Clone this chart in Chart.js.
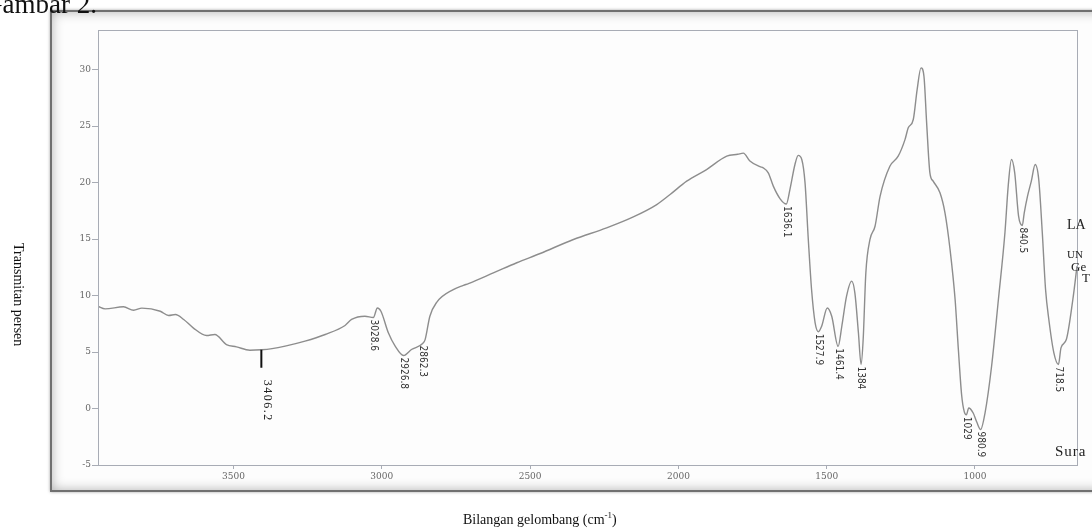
<!DOCTYPE html>
<html>
<head>
<meta charset="utf-8">
<script src="https://cdn.jsdelivr.net/npm/chart.js@4.4.1/dist/chart.umd.min.js"></script>
<style>
  html, body { margin: 0; padding: 0; background: #fff; }
  #page { position: relative; width: 1092px; height: 529px; overflow: hidden; background: #fff; }
  #sheet {
    position: absolute; left: 50px; top: 10px; width: 1100px; height: 478px;
    border: 2px solid #707070; border-right: none;
    box-shadow: inset 0 0 12px rgba(0,0,0,0.30), 0 0 3px rgba(0,0,0,0.35);
    background: #fdfdfd;
  }
  canvas { position: absolute; left: 0; top: 0; }
  .t { position: absolute; font-family: "Liberation Serif", "Times New Roman", serif; color: #111; white-space: nowrap; line-height: 1; }
  #ytitle { left: 11px; top: 243px; font-size: 14px; writing-mode: vertical-rl; }
  #xtitle { left: 463px; top: 513px; font-size: 14px; }
  #xtitle sup { font-size: 9px; vertical-align: 6px; line-height: 0; }
  #fig { left: -17px; top: -9px; font-size: 27px; }
  .stamp { color: #222; }
</style>
</head>
<body>
<div id="page">
  <div id="sheet"></div>
  <canvas id="ir" width="1092" height="529"></canvas>
  <div class="t" id="fig">Gambar 2.</div>
  <div class="t" id="ytitle">Transmitan persen</div>
  <div class="t" id="xtitle">Bilangan gelombang (cm<sup>-1</sup>)</div>
  <div class="t stamp" style="left:1067px;top:218px;font-size:14px;">LA</div>
  <div class="t stamp" style="left:1067px;top:249px;font-size:11px;">UN</div>
  <div class="t stamp" style="left:1071px;top:260px;font-size:13px;">Ge</div>
  <div class="t stamp" style="left:1082px;top:271px;font-size:13px;">T</div>
  <div class="t stamp" style="left:1055px;top:444px;font-size:15px;letter-spacing:1px;">Sura</div>
</div>
<script>
// IR spectrum: wavenumber (cm-1) against percent transmittance
const wavenumbers = [
  3957, 3933, 3871, 3837, 3809, 3747, 3719, 3696, 3668, 3636, 3591, 3563, 3524, 3490, 3445,
  3406.2, 3370, 3326, 3259, 3191, 3124, 3102, 3057, 3028.6, 3015, 3003, 2978, 2955, 2926.8,
  2900, 2862.3, 2854, 2838, 2815, 2759, 2725, 2708, 2624, 2545, 2466, 2354, 2242, 2152, 2073,
  2028, 1972, 1905, 1837, 1800, 1781, 1759, 1725, 1714, 1697, 1680, 1657, 1636.1, 1624, 1607,
  1596, 1584, 1573, 1562, 1551, 1539, 1527.9, 1517, 1498, 1483, 1461.4, 1449, 1433, 1416, 1405,
  1393, 1384, 1377, 1368, 1354, 1337, 1320, 1287, 1259, 1236, 1225, 1208, 1195, 1182, 1172,
  1163, 1152, 1141, 1118, 1101, 1084, 1067, 1056, 1045, 1036, 1029, 1021, 1006, 994, 980.9,
  966, 944, 921, 899, 888, 877, 866, 853, 840.5, 834, 823, 810, 797, 785, 773, 762, 751, 734,
  718.5, 710, 692, 670, 656
];
const transmittance = [
  9.05, 8.82, 9.0, 8.7, 8.88, 8.61, 8.23, 8.32, 7.88, 7.14, 6.46, 6.55, 5.66, 5.46, 5.16,
  5.2, 5.3, 5.52, 5.96, 6.55, 7.35, 7.88, 8.17, 8.05, 8.9, 8.61, 6.7, 5.52, 4.69,
  5.22, 5.75, 6.1, 8.17, 9.4, 10.53, 10.9, 11.06, 12.0, 12.9, 13.72, 14.96, 15.99, 16.96, 18.05,
  18.94, 20.12, 21.15, 22.33, 22.5, 22.6, 21.9, 21.4, 21.3, 20.86, 19.68, 18.56, 18.1, 19.38, 21.6,
  22.4, 22.04, 19.97, 14.96, 10.53, 7.58, 6.8, 7.28, 8.9, 8.17, 5.5, 7.28, 9.94, 11.27, 10.24,
  6.7, 3.9, 6.1, 12.0, 14.96, 16.13, 18.78, 21.44, 22.33, 23.8, 24.84, 25.58, 28.23, 30.15, 29.4,
  25.28, 20.86, 20.12, 19.09, 17.3, 14.07, 9.65, 5.22, 1.2, -0.3, -0.55, 0.05, -0.4, -1.2, -1.86,
  -0.38, 3.74, 9.65, 15.55, 19.68, 22.04, 20.86, 17.02, 16.2, 17.3, 18.78, 20.12, 21.6, 20.27, 15.55, 10.53, 7.88, 4.93,
  3.9, 5.37, 6.1, 9.65, 12.6
];

// Band positions printed beside the trace
const peakWavenumbers = [3028.6, 2926.8, 2862.3, 1636.1, 1527.9, 1461.4, 1384, 1029, 980.9, 840.5, 718.5];
const peakLabels = ['3028.6', '2926.8', '2862.3', '1636.1', '1527.9', '1461.4', '1384', '1029', '980.9', '840.5', '718.5'];

// Broad O-H band marked by hand
const markedBand = 3406.2;
const markedLabel = '3406.2';

const xTicks = [3500, 3000, 2500, 2000, 1500, 1000];
const yTicks = [-5, 0, 5, 10, 15, 20, 25, 30];

const frameColor = '#a8acb5';
const tickFont = { family: '"DejaVu Serif", "Liberation Serif", serif', size: 9 };

const points = wavenumbers.map((w, i) => ({ x: w, y: transmittance[i] }));

const framePlugin = {
  id: 'frame',
  afterDraw(chart) {
    const { ctx, chartArea: a } = chart;
    ctx.save();
    ctx.strokeStyle = frameColor;
    ctx.lineWidth = 1;
    ctx.strokeRect(a.left + 0.5, a.top + 0.5, a.right - a.left, a.bottom - a.top);
    ctx.restore();
  }
};

const peakPlugin = {
  id: 'peakLabels',
  afterDatasetsDraw(chart) {
    const { ctx, scales: { x, y } } = chart;
    ctx.save();
    ctx.font = '10px "Liberation Sans Narrow", "DejaVu Sans Condensed", "Liberation Sans", sans-serif';
    ctx.fillStyle = '#333';
    ctx.textAlign = 'left';
    ctx.textBaseline = 'middle';
    peakWavenumbers.forEach((w, i) => {
      const idx = wavenumbers.indexOf(w);
      const px = x.getPixelForValue(w);
      const py = y.getPixelForValue(transmittance[idx]);
      ctx.save();
      ctx.translate(px, py + 2);
      ctx.rotate(Math.PI / 2);
      ctx.fillText(peakLabels[i], 0, 0);
      ctx.restore();
    });

    // hand-drawn marker and label for the broad band
    const mi = wavenumbers.indexOf(markedBand);
    const mx = x.getPixelForValue(markedBand);
    const my = y.getPixelForValue(transmittance[mi]);
    ctx.strokeStyle = '#111';
    ctx.lineWidth = 2;
    ctx.beginPath();
    ctx.moveTo(mx, my);
    ctx.lineTo(mx, my + 18);
    ctx.stroke();
    ctx.fillStyle = '#222';
    ctx.font = '12px "Liberation Serif", "Times New Roman", serif';
    if ('letterSpacing' in ctx) ctx.letterSpacing = '1.5px';
    ctx.translate(mx + 6, my + 30);
    ctx.rotate(Math.PI / 2);
    ctx.fillText(markedLabel, 0, 0);
    ctx.restore();
  }
};

new Chart(document.getElementById('ir'), {
  type: 'line',
  data: {
    datasets: [{
      data: points,
      borderColor: '#8d8d8d',
      borderWidth: 1.4,
      pointRadius: 0,
      fill: false,
      cubicInterpolationMode: 'monotone'
    }]
  },
  options: {
    responsive: false,
    animation: false,
    devicePixelRatio: 1,
    layout: { padding: { left: 0, top: 30, right: 15, bottom: 0 } },
    plugins: { legend: { display: false }, tooltip: { enabled: false } },
    scales: {
      x: {
        type: 'linear',
        reverse: true,
        min: 656,
        max: 3957,
        afterBuildTicks: s => { s.ticks = xTicks.map(v => ({ value: v })); },
        afterFit: s => { s.height = 64; },
        border: { display: false },
        grid: { drawOnChartArea: false, drawTicks: true, tickLength: 4, color: frameColor },
        ticks: { font: tickFont, color: '#666', padding: 2, maxRotation: 0, callback: v => String(v) }
      },
      y: {
        type: 'linear',
        min: -5,
        max: 33.5,
        afterBuildTicks: s => { s.ticks = yTicks.map(v => ({ value: v })); },
        afterFit: s => { s.width = 98; },
        border: { display: false },
        grid: { drawOnChartArea: false, drawTicks: true, tickLength: 6, color: frameColor },
        ticks: { font: tickFont, color: '#666', padding: 1, callback: v => String(v) }
      }
    }
  },
  plugins: [framePlugin, peakPlugin]
});
</script>
</body>
</html>
